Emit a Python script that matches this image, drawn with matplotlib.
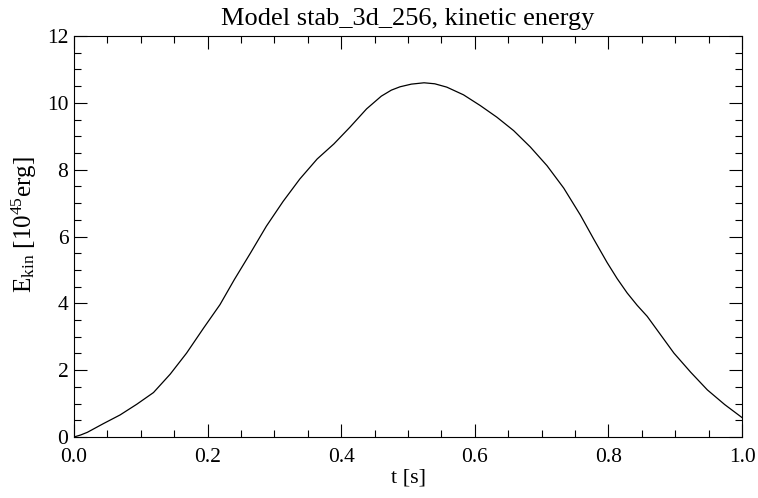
import matplotlib
matplotlib.use("Agg")
import matplotlib.pyplot as plt
from matplotlib.ticker import MultipleLocator, FormatStrFormatter

plt.rcParams['font.family'] = ['Liberation Serif', 'DejaVu Serif']
plt.rcParams['mathtext.fontset'] = 'custom'
plt.rcParams['mathtext.rm'] = 'Liberation Serif'
plt.rcParams['mathtext.it'] = 'Liberation Serif:italic'

title = "Model stab_3d_256, kinetic energy"
xlabel = "t [s]"
ylabel = r"E$_{\rm kin}$ [10$^{45}$erg]"

t = [0.0, 0.01, 0.02, 0.044, 0.069, 0.094, 0.119, 0.144, 0.1685, 0.194, 0.2185, 0.24,
     0.264, 0.288, 0.313, 0.338, 0.364, 0.389, 0.413, 0.438, 0.46, 0.475, 0.488,
     0.505, 0.524, 0.54, 0.558, 0.583, 0.608, 0.633, 0.658, 0.683, 0.708, 0.733,
     0.758, 0.778, 0.798, 0.813, 0.828, 0.843, 0.858, 0.878, 0.898, 0.923, 0.948,
     0.974, 1.0]
E = [0.0, 0.06, 0.14, 0.4, 0.66, 0.98, 1.33, 1.88, 2.51, 3.26, 3.96, 4.71,
     5.5, 6.31, 7.05, 7.72, 8.32, 8.77, 9.27, 9.82, 10.2, 10.38, 10.48,
     10.56, 10.6, 10.57, 10.47, 10.24, 9.92, 9.57, 9.17, 8.68, 8.12, 7.45,
     6.64, 5.92, 5.22, 4.74, 4.31, 3.94, 3.61, 3.06, 2.51, 1.94, 1.41,
     0.97, 0.58]

fig = plt.figure(figsize=(7.58, 4.98), dpi=100)
ax = fig.add_axes([0.0976, 0.1225, 0.8814, 0.8052])
ax.plot(t, E, color='black', lw=0.9)
ax.set_xlim(0, 1)
ax.set_ylim(0, 12)
ax.xaxis.set_major_locator(MultipleLocator(0.2))
ax.xaxis.set_minor_locator(MultipleLocator(0.05))
ax.yaxis.set_major_locator(MultipleLocator(2))
ax.yaxis.set_minor_locator(MultipleLocator(0.5))
ax.xaxis.set_major_formatter(FormatStrFormatter('%.1f'))
ax.tick_params(which='both', direction='in', top=True, right=True, width=0.8,
               labelsize=15.5)
ax.tick_params(axis='x', which='both', pad=8)
ax.tick_params(axis='y', which='both', pad=4)
ax.tick_params(which='major', length=9.5)
ax.tick_params(which='minor', length=5)
for s in ax.spines.values():
    s.set_linewidth(0.8)
ax.set_title(title, fontsize=19, pad=8)
ax.set_xlabel(xlabel, fontsize=16, labelpad=1)
ax.set_ylabel(ylabel, fontsize=18)
ax.yaxis.set_label_coords(-0.052, 0.53)
fig.savefig("out.png", dpi=100)
